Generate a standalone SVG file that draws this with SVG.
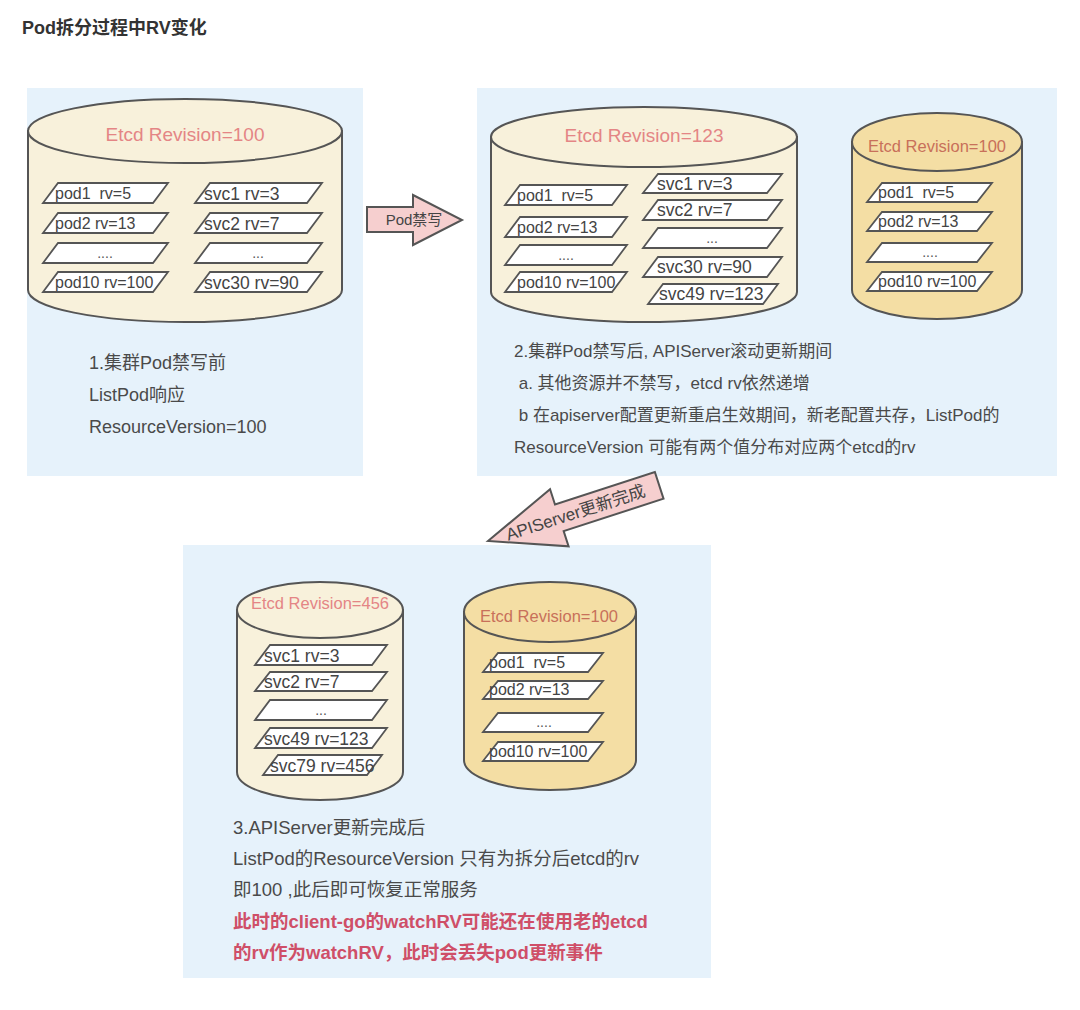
<svg xmlns="http://www.w3.org/2000/svg" width="1080" height="1010" viewBox="0 0 1080 1010">
<style>
  text { font-family: "Liberation Sans", "Noto Sans CJK SC", sans-serif; }
  .panel { fill: #e6f2fb; }
  .cyl { stroke: #555; stroke-width: 2; }
  .cream { fill: #f8f1db; }
  .tan { fill: #f4dea4; }
  .item { fill: #ffffff; stroke: #555; stroke-width: 1.8; }
  .pod { font-size: 16px; fill: #444; }
  .svc { font-size: 17.5px; fill: #444; }
  .dots { font-size: 14px; fill: #555; text-anchor: middle; }
  .revp { fill: #e48585; text-anchor: middle; }
  .revb { fill: #c8705a; text-anchor: middle; }
  .body { fill: #4a4a4a; }
  .warn { fill: #cf4f68; font-weight: bold; }
  .arrow { fill: #f6cfcf; stroke: #555; stroke-width: 2; }
</style>

<text x="22" y="34" font-size="18" font-weight="bold" fill="#333">Pod拆分过程中RV变化</text>

<g id="panel1">
  <rect class="panel" x="27" y="88" width="336" height="388"/>
  <g id="etcd1">
    <path class="cyl cream" d="M28,131 L28,290 A157,32 0 0 0 342,290 L342,131 Z"/>
    <ellipse class="cyl cream" cx="185" cy="131" rx="157" ry="32"/>
    <text class="revp" x="185" y="141" font-size="19">Etcd Revision=100</text>
    <polygon class="item" points="58,183 168,183 153,203 43,203"/>
    <text class="pod" x="55" y="199" xml:space="preserve">pod1  rv=5</text>
    <polygon class="item" points="58,213 168,213 153,233 43,233"/>
    <text class="pod" x="55" y="229">pod2 rv=13</text>
    <polygon class="item" points="58,243 168,243 153,263 43,263"/>
    <text class="dots" x="105" y="258">....</text>
    <polygon class="item" points="58,272 168,272 153,292 43,292"/>
    <text class="pod" x="55" y="288">pod10 rv=100</text>
    <polygon class="item" points="210,183 322,183 307,203 195,203"/>
    <text class="svc" x="204" y="200">svc1 rv=3</text>
    <polygon class="item" points="210,213 322,213 307,233 195,233"/>
    <text class="svc" x="204" y="230">svc2 rv=7</text>
    <polygon class="item" points="210,243 322,243 307,263 195,263"/>
    <text class="dots" x="258" y="258">...</text>
    <polygon class="item" points="210,272 322,272 307,292 195,292"/>
    <text class="svc" x="204" y="289">svc30 rv=90</text>
  </g>
  <g id="note1" class="body" font-size="18">
    <text x="89" y="369">1.集群Pod禁写前</text>
    <text x="89" y="401">ListPod响应</text>
    <text x="89" y="433">ResourceVersion=100</text>
  </g>
</g>

<g id="panel2">
  <rect class="panel" x="477" y="88" width="580" height="388"/>
  <g id="etcd2">
    <path class="cyl cream" d="M491,137 L491,292 A153,30 0 0 0 797,292 L797,137 Z"/>
    <ellipse class="cyl cream" cx="644" cy="137" rx="153" ry="30"/>
    <text class="revp" x="644" y="142" font-size="19">Etcd Revision=123</text>
    <polygon class="item" points="520,185 627,185 612,205 505,205"/>
    <text class="pod" x="517" y="201" xml:space="preserve">pod1  rv=5</text>
    <polygon class="item" points="520,217 627,217 612,237 505,237"/>
    <text class="pod" x="517" y="233">pod2 rv=13</text>
    <polygon class="item" points="520,245 627,245 612,265 505,265"/>
    <text class="dots" x="566" y="260">....</text>
    <polygon class="item" points="520,272 627,272 612,292 505,292"/>
    <text class="pod" x="517" y="288">pod10 rv=100</text>
    <polygon class="item" points="658,174 782,174 767,193 643,193"/>
    <text class="svc" x="657" y="190">svc1 rv=3</text>
    <polygon class="item" points="658,200 782,200 767,220 643,220"/>
    <text class="svc" x="657" y="216">svc2 rv=7</text>
    <polygon class="item" points="658,228 782,228 767,248 643,248"/>
    <text class="dots" x="712" y="243">...</text>
    <polygon class="item" points="658,257 782,257 767,277 643,277"/>
    <text class="svc" x="657" y="273">svc30 rv=90</text>
    <polygon class="item" points="663,284 778,284 763,304 648,304"/>
    <text class="svc" x="659" y="300">svc49 rv=123</text>
  </g>
  <g id="etcd3">
    <path class="cyl tan" d="M852,142 L852,290 A85,29 0 0 0 1022,290 L1022,142 Z"/>
    <ellipse class="cyl tan" cx="937" cy="142" rx="85" ry="29"/>
    <text class="revb" x="937" y="152" font-size="16.5">Etcd Revision=100</text>
    <polygon class="item" points="882,183 992,183 977,202 867,202"/>
    <text class="pod" x="878" y="198" xml:space="preserve">pod1  rv=5</text>
    <polygon class="item" points="882,212 992,212 977,231 867,231"/>
    <text class="pod" x="878" y="227">pod2 rv=13</text>
    <polygon class="item" points="882,243 992,243 977,262 867,262"/>
    <text class="dots" x="930" y="257">....</text>
    <polygon class="item" points="882,272 992,272 977,291 867,291"/>
    <text class="pod" x="878" y="287">pod10 rv=100</text>
  </g>
  <g id="note2" class="body" font-size="17">
    <text x="514" y="357">2.集群Pod禁写后, APIServer滚动更新期间</text>
    <text x="514" y="389" xml:space="preserve"> a. 其他资源并不禁写，etcd rv依然递增</text>
    <text x="514" y="421" xml:space="preserve"> b 在apiserver配置更新重启生效期间，新老配置共存，ListPod的</text>
    <text x="514" y="453">ResourceVersion 可能有两个值分布对应两个etcd的rv</text>
  </g>
</g>

<g id="panel3">
  <rect class="panel" x="183" y="545" width="528" height="433"/>
  <g id="etcd4">
    <path class="cyl cream" d="M237,610 L237,772 A83,28 0 0 0 403,772 L403,610 Z"/>
    <ellipse class="cyl cream" cx="320" cy="610" rx="83" ry="28"/>
    <text class="revp" x="320" y="609" font-size="16.5">Etcd Revision=456</text>
    <polygon class="item" points="270,645 387,645 372,665 255,665"/>
    <text class="svc" x="264" y="662">svc1 rv=3</text>
    <polygon class="item" points="270,672 387,672 372,691 255,691"/>
    <text class="svc" x="264" y="688">svc2 rv=7</text>
    <polygon class="item" points="270,700 387,700 372,720 255,720"/>
    <text class="dots" x="321" y="715">...</text>
    <polygon class="item" points="270,728 387,728 372,748 255,748"/>
    <text class="svc" x="264" y="745">svc49 rv=123</text>
    <polygon class="item" points="278,755 382,755 367,775 263,775"/>
    <text class="svc" x="270" y="772" font-size="16">svc79 rv=456</text>
  </g>
  <g id="etcd5">
    <path class="cyl tan" d="M464,612 L464,760 A86,30 0 0 0 636,760 L636,612 Z"/>
    <ellipse class="cyl tan" cx="550" cy="612" rx="86" ry="30"/>
    <text class="revb" x="549" y="622" font-size="16.5">Etcd Revision=100</text>
    <polygon class="item" points="498,653 603,653 588,672 483,672"/>
    <text class="pod" x="489" y="668" xml:space="preserve">pod1  rv=5</text>
    <polygon class="item" points="498,681 603,681 588,699 483,699"/>
    <text class="pod" x="489" y="695">pod2 rv=13</text>
    <polygon class="item" points="498,713 603,713 588,732 483,732"/>
    <text class="dots" x="544" y="727">....</text>
    <polygon class="item" points="498,742 603,742 588,761 483,761"/>
    <text class="pod" x="489" y="757">pod10 rv=100</text>
  </g>
  <g id="note3" font-size="18.5">
    <text class="body" x="233" y="834">3.APIServer更新完成后</text>
    <text class="body" x="233" y="865">ListPod的ResourceVersion 只有为拆分后etcd的rv</text>
    <text class="body" x="233" y="896">即100 ,此后即可恢复正常服务</text>
    <text class="warn" x="233" y="928">此时的client-go的watchRV可能还在使用老的etcd</text>
    <text class="warn" x="233" y="959">的rv作为watchRV，此时会丢失pod更新事件</text>
  </g>
</g>

<g id="connectors">
  <g id="arrow-pod-forbid">
    <polygon class="arrow" points="367,207 413,207 413,195 462,220 413,245 413,232 367,232"/>
    <text x="414" y="225" font-size="15" fill="#444" text-anchor="middle">Pod禁写</text>
  </g>
  <g id="arrow-apiserver-done" transform="translate(488,541) rotate(-18)">
    <polygon class="arrow" points="0,0 75,-30 75,-14 180,-14 180,14 75,14 75,30"/>
    <text x="92" y="6" font-size="17" fill="#444" text-anchor="middle">APIServer更新完成</text>
  </g>
</g>
</svg>
